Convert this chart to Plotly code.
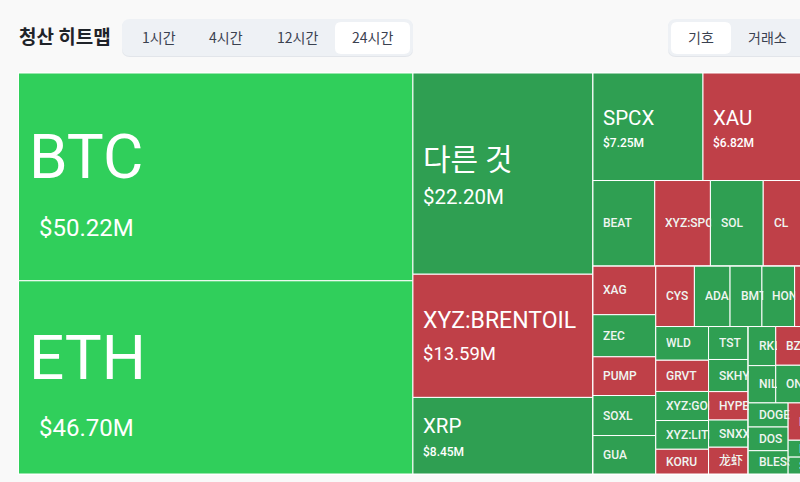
#liquidation heatmap, tiles nested so that slice-dice packing gives the same rows and columns
import plotly.graph_objects as go

#tile names, parents and $M values
tile_names = ['BTC', 'ETH', '다른 것', 'XYZ:BRENTOIL', 'XRP', 'SPCX', 'XAU',
              'BEAT', 'XYZ:SPOT', 'SOL', 'CL',
              'XAG', 'ZEC', 'PUMP', 'SOXL', 'GUA',
              'CYS', 'ADA', 'BMT', 'HONEY', 'AAVE',
              'WLD', 'GRVT', 'XYZ:GOLD', 'XYZ:LITE', 'KORU',
              'TST', 'SKHY', 'HYPE', 'SNXX', '龙虾',
              'RKLB', 'NIL', 'BZ', 'ONDO',
              'DOGE', 'DOS', 'BLESS', 'PAXG', 'LINK', 'SUI']
tile_parents = ['col1', 'col1', 'col2', 'col2', 'col2', 'row_a', 'row_a',
                'row_b', 'row_b', 'row_b', 'row_b',
                'low_left', 'low_left', 'low_left', 'low_left', 'low_left',
                'cys_row', 'cys_row', 'cys_row', 'cys_row', 'cys_row',
                'col_a', 'col_a', 'col_a', 'col_a', 'col_a',
                'col_b', 'col_b', 'col_b', 'col_b', 'col_b',
                'rk_col', 'rk_col', 'bz_col', 'bz_col',
                'dos_col', 'dos_col', 'dos_col', 'tail_col', 'tail_col', 'tail_col']
tile_values = [50.22, 46.70, 22.20, 13.59, 8.45, 7.25, 6.82,
               3.24, 2.92, 2.77, 2.27,
               1.87, 1.62, 1.49, 1.54, 1.48,
               1.43, 1.32, 1.18, 1.21, 0.44,
               1.09, 1.01, 0.94, 0.93, 0.80,
               0.80, 0.78, 0.69, 0.66, 0.65,
               0.66, 0.63, 0.73, 0.71,
               0.59, 0.58, 0.57, 0.42, 0.19, 0.19]
tile_side = ['top', 'top', 'long', 'short', 'long', 'long', 'short',
             'long', 'short', 'long', 'short',
             'short', 'long', 'short', 'long', 'long',
             'short', 'long', 'long', 'long', 'short',
             'long', 'short', 'long', 'long', 'short',
             'long', 'long', 'short', 'long', 'short',
             'long', 'long', 'short', 'long',
             'long', 'long', 'long', 'short', 'long', 'long']
#only the bigger tiles print the amount
value_labels = {'BTC': '$50.22M', 'ETH': '$46.70M', '다른 것': '$22.20M', 'XYZ:BRENTOIL': '$13.59M',
                'XRP': '$8.45M', 'SPCX': '$7.25M', 'XAU': '$6.82M'}

#grouping tiles: group -> parent
group_names = ['col1', 'col2', 'rest', 'row_a', 'row_b', 'low', 'low_left', 'low_right', 'cys_row', 'low_mid',
               'col_a', 'col_b', 'col_c', 'c_up', 'c_down', 'rk_col', 'bz_col', 'dos_col', 'tail_col']
group_parents = ['all', 'all', 'all', 'rest', 'rest', 'rest', 'low', 'low', 'low_right', 'low_right',
                 'low_mid', 'low_mid', 'low_mid', 'col_c', 'col_c', 'c_up', 'c_up', 'c_down', 'c_down']

#time range and grouping buttons
range_buttons = ['1시간', '4시간', '12시간', '24시간']
group_buttons = ['기호', '거래소']
title_text = '청산 히트맵'

side_colors = {'top': '#30cf5b', 'long': '#2f9f52', 'short': '#bf4048'}
BG = '#f9f9f9'
LATIN = 'Roboto, "Noto Sans CJK KR", sans-serif'
KOREAN = '"Noto Sans CJK KR", sans-serif'

#figure is wider than the window, the tiles run off the right side like in the page
W = 830
H = 482
MAP_LEFT, MAP_RIGHT, MAP_TOP, MAP_BOTTOM = 18.5, 806.5, 73, 474

#text style per big tile: label size, value size, label dy, value dy, label dx, value dx
big_styles = {'BTC': (62, 24, -20, 51, 9.5, 19.5), 'ETH': (62, 24, -20, 51, 9.5, 19.5),
              '다른 것': (30, 20.5, -17, 23, 9.5, 9.5), 'XYZ:BRENTOIL': (23, 18.5, -15, 18, 9.5, 9.5),
              'XRP': (20.5, 12, -10, 16, 9.5, 9.5), 'SPCX': (20.5, 12, -9, 16, 9.5, 9.5), 'XAU': (20.5, 12, -9, 16, 9.5, 9.5)}

#children of every node and its total, needed for parents and for placing text
children = {}
for n, p in zip(group_names + tile_names, group_parents + tile_parents):
    children.setdefault(p, []).append(n)
tile_val = dict(zip(tile_names, tile_values))

def total(node):
    if node in tile_val:
        return tile_val[node]
    return round(sum(total(c) for c in children[node]), 2)

#same split as slice-dice: even depth goes left to right, odd depth top to bottom
rects = {}
def split(node, x0, y0, x1, y1, depth):
    rects[node] = (x0, y0, x1, y1)
    if node in tile_val:
        return
    pos = x0 if depth % 2 == 0 else y0
    for c in children[node]:
        share = total(c) / total(node)
        if depth % 2 == 0:
            step = (x1 - x0) * share
            split(c, pos, y0, pos + step, y1, depth + 1)
        else:
            step = (y1 - y0) * share
            split(c, x0, pos, x1, pos + step, depth + 1)
        pos += step
split('all', MAP_LEFT, MAP_TOP, MAP_RIGHT, MAP_BOTTOM, 0)

ids = ['all'] + group_names + tile_names
parents = [''] + group_parents + tile_parents
values = [total(i) for i in ids]
colors = [BG] * (1 + len(group_names)) + [side_colors[s] for s in tile_side]

fig = go.Figure(go.Treemap(
    ids=ids, labels=ids, parents=parents, values=values,
    branchvalues='total', sort=False, textinfo='none', hoverinfo='skip',
    tiling=dict(packing='slice-dice', pad=0),
    pathbar=dict(visible=False),
    marker=dict(colors=colors, line=dict(color='white', width=1), pad=dict(t=0, l=0, r=0, b=0), depthfade=False),
    domain=dict(x=[MAP_LEFT / W, MAP_RIGHT / W], y=[1 - MAP_BOTTOM / H, 1 - MAP_TOP / H]),
))

annotations = []
def add_text(text, x, y, size, color, family, weight=400, anchor='left', width=None):
    a = dict(text=text, x=x / W, y=1 - y / H, xref='paper', yref='paper', showarrow=False,
             xanchor=anchor, yanchor='middle', align=anchor, borderpad=0,
             font=dict(size=size, color=color, family=family, weight=weight))
    if width is not None:
        a['width'] = width
    annotations.append(a)

for name in tile_names:
    x0, y0, x1, y1 = rects[name]
    mid = (y0 + y1) / 2
    if name in big_styles:
        ls, vs, ldy, vdy, ldx, vdx = big_styles[name]
        add_text(name, x0 + ldx, mid + ldy, ls, 'white', LATIN if name != '다른 것' else KOREAN, width=x1 - x0 - ldx)
        add_text(value_labels[name], x0 + vdx, mid + vdy, vs, 'white', LATIN, 500 if vs < 15 else 400)
    else:
        add_text(name, x0 + 9.5, mid, 12, '#f0f5f1', LATIN, 500, width=x1 - x0 - 9.5)

add_text(title_text, 18, 36, 19, '#1f2329', KOREAN, 700)

def rounded(x0, y0, x1, y1, r):
    #rounded box path from page pixels
    pts = [('M', x0 + r, y0), ('L', x1 - r, y0), ('Q', x1, y0, x1, y0 + r), ('L', x1, y1 - r),
           ('Q', x1, y1, x1 - r, y1), ('L', x0 + r, y1), ('Q', x0, y1, x0, y1 - r), ('L', x0, y0 + r),
           ('Q', x0, y0, x0 + r, y0)]
    out = ''
    for p in pts:
        out += p[0]
        for i in range(1, len(p), 2):
            out += '%.5f,%.5f ' % (p[i] / W, 1 - p[i + 1] / H)
    return out + 'Z'

def box(x0, y0, x1, y1, r, color):
    return dict(type='path', path=rounded(x0, y0, x1, y1, r), xref='paper', yref='paper',
                fillcolor=color, line=dict(width=0), layer='below')

shapes = [
    box(122, 20, 413, 57, 8, '#e2e5ea'),
    box(122, 19, 413, 56, 8, '#eef1f5'),
    box(335, 22, 410, 54, 6, 'white'),
    box(668, 20, 830, 57, 8, '#e2e5ea'),
    box(668, 19, 830, 56, 8, '#eef1f5'),
    box(671, 22, 731, 54, 6, 'white'),
]

for label, cx in zip(range_buttons, [158.5, 226, 297, 372]):
    add_text(label, cx, 37, 14, '#3a4150', KOREAN, anchor='center')
for label, cx in zip(group_buttons, [701, 767]):
    add_text(label, cx, 37, 14, '#3a4150', KOREAN, anchor='center')

fig.update_layout(width=W, height=H, autosize=False, margin=dict(l=0, r=0, t=0, b=0, pad=0),
                  paper_bgcolor=BG, plot_bgcolor=BG, shapes=shapes, annotations=annotations,
                  showlegend=False)

fig.write_html("out.html", config=dict(displayModeBar=False, responsive=False),
               post_script="document.body.style.margin='0';document.body.style.overflow='hidden';document.documentElement.style.overflow='hidden';")
